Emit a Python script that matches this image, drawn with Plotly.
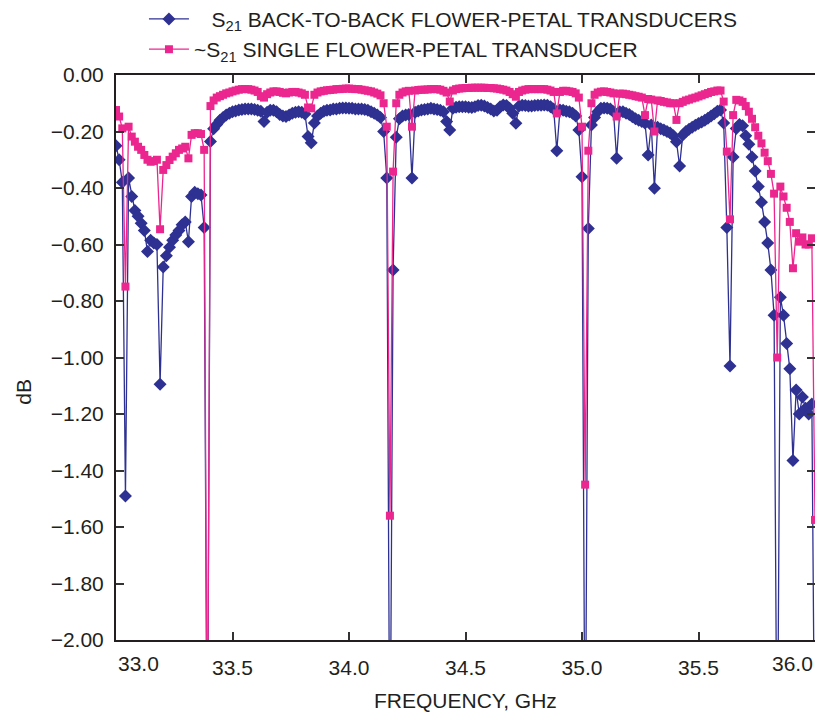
import numpy as np
import plotly.graph_objects as go

# Frequency sweep (GHz): 223 equally spaced points from 33.0 to 36.0
F_START, F_STOP, N_PTS = 33.0, 36.0, 223
freq = np.linspace(F_START, F_STOP, N_PTS)

# S21 back-to-back flower-petal transducers (dB)
s21_b2b = [
    -0.25, -0.30, -0.38, -1.49, -0.365, -0.43, -0.48, -0.50, -0.525, -0.55,
    -0.625, -0.585, -0.595, -0.60, -1.095, -0.68, -0.64, -0.61, -0.585, -0.566,
    -0.55, -0.53, -0.52, -0.59, -0.43, -0.415, -0.42, -0.425, -0.54, -2.60,
    -0.235, -0.19, -0.175, -0.16, -0.15, -0.142, -0.135, -0.13, -0.127, -0.124,
    -0.122, -0.12, -0.12, -0.12, -0.122, -0.125, -0.128, -0.165, -0.132, -0.125,
    -0.125, -0.13, -0.14, -0.145, -0.147, -0.142, -0.135, -0.132, -0.13, -0.132,
    -0.138, -0.218, -0.24, -0.17, -0.145, -0.135, -0.128, -0.125, -0.124, -0.12,
    -0.12, -0.118, -0.117, -0.117, -0.118, -0.118, -0.12, -0.12, -0.12, -0.122,
    -0.125, -0.13, -0.135, -0.142, -0.15, -0.20, -0.365, -2.60, -0.69, -0.22,
    -0.155, -0.145, -0.142, -0.14, -0.365, -0.132, -0.127, -0.124, -0.122, -0.12,
    -0.118, -0.12, -0.122, -0.125, -0.13, -0.165, -0.195, -0.118, -0.114, -0.112,
    -0.112, -0.112, -0.114, -0.115, -0.112, -0.108, -0.107, -0.11, -0.115, -0.12,
    -0.127, -0.125, -0.112, -0.106, -0.108, -0.118, -0.135, -0.171, -0.11, -0.107,
    -0.108, -0.11, -0.11, -0.108, -0.107, -0.107, -0.106, -0.107, -0.112, -0.12,
    -0.268, -0.124, -0.125, -0.128, -0.13, -0.135, -0.145, -0.195, -0.36, -2.60,
    -0.543, -0.177, -0.15, -0.13, -0.118, -0.117, -0.118, -0.12, -0.13, -0.295,
    -0.13, -0.13, -0.135, -0.14, -0.148, -0.155, -0.16, -0.165, -0.17, -0.283,
    -0.177, -0.401, -0.185, -0.19, -0.195, -0.20, -0.205, -0.215, -0.236, -0.322,
    -0.212, -0.20, -0.192, -0.185, -0.178, -0.172, -0.166, -0.16, -0.153, -0.145,
    -0.137, -0.128, -0.124, -0.17, -0.54, -1.03, -0.29, -0.189, -0.175, -0.18,
    -0.215, -0.245, -0.29, -0.34, -0.395, -0.45, -0.52, -0.595, -0.69, -0.85,
    -2.60, -0.787, -0.85, -0.95, -1.04, -1.365, -1.115, -1.20, -1.14, -1.18,
    -1.20, -1.165, -2.60,
]

# ~S21 single flower-petal transducer (dB)
s21_single = [
    -0.124, -0.147, -0.189, -0.749, -0.183, -0.218, -0.236, -0.254, -0.265, -0.283,
    -0.30, -0.307, -0.305, -0.30, -0.546, -0.336, -0.319, -0.301, -0.289, -0.277,
    -0.265, -0.26, -0.254, -0.295, -0.212, -0.206, -0.206, -0.209, -0.265, -2.60,
    -0.11, -0.09, -0.08, -0.075, -0.07, -0.065, -0.062, -0.058, -0.055, -0.052,
    -0.05, -0.05, -0.05, -0.052, -0.055, -0.06, -0.075, -0.08, -0.068, -0.062,
    -0.058, -0.058, -0.06, -0.063, -0.065, -0.062, -0.06, -0.06, -0.062, -0.065,
    -0.07, -0.115, -0.118, -0.07, -0.062, -0.058, -0.056, -0.054, -0.053, -0.052,
    -0.05, -0.05, -0.049, -0.048, -0.048, -0.049, -0.05, -0.05, -0.052, -0.054,
    -0.056, -0.058, -0.062, -0.066, -0.072, -0.10, -0.183, -1.56, -0.342, -0.10,
    -0.07, -0.062, -0.058, -0.056, -0.183, -0.055, -0.053, -0.052, -0.052, -0.051,
    -0.05, -0.05, -0.05, -0.052, -0.056, -0.062, -0.094, -0.055, -0.05, -0.048,
    -0.047, -0.046, -0.046, -0.045, -0.045, -0.045, -0.045, -0.045, -0.046, -0.046,
    -0.047, -0.048, -0.05, -0.052, -0.055, -0.06, -0.068, -0.077, -0.06, -0.055,
    -0.052, -0.05, -0.05, -0.05, -0.05, -0.05, -0.05, -0.052, -0.055, -0.06,
    -0.136, -0.06, -0.056, -0.056, -0.058, -0.06, -0.065, -0.08, -0.183, -1.45,
    -0.268, -0.10, -0.07, -0.062, -0.059, -0.058, -0.06, -0.062, -0.065, -0.147,
    -0.066, -0.066, -0.068, -0.07, -0.072, -0.075, -0.077, -0.08, -0.142, -0.085,
    -0.087, -0.20, -0.09, -0.092, -0.095, -0.097, -0.10, -0.10, -0.159, -0.10,
    -0.095, -0.09, -0.087, -0.083, -0.08, -0.076, -0.072, -0.068, -0.064, -0.06,
    -0.058, -0.055, -0.055, -0.094, -0.271, -0.511, -0.142, -0.088, -0.09, -0.095,
    -0.11, -0.13, -0.155, -0.185, -0.215, -0.242, -0.275, -0.305, -0.35, -0.42,
    -1.00, -0.395, -0.43, -0.47, -0.52, -0.684, -0.56, -0.59, -0.575, -0.60,
    -0.60, -0.578, -1.575,
]

x_ticks = [33.5, 34.0, 34.5, 35.0, 35.5]
x_edge_ticks = [33.0, 36.0]
y_ticks = [0.0, -0.2, -0.4, -0.6, -0.8, -1.0, -1.2, -1.4, -1.6, -1.8, -2.0]

BLUE = "#2E3192"
PINK = "#EC268F"
TXT = "#231F20"
FONT = "Liberation Sans, Arial, sans-serif"
FS = 21

# page has an 8px body margin, so the figure is 8px smaller each way
W, H = 815, 707

fig = go.Figure()
fig.add_trace(go.Scatter(
    x=freq, y=s21_b2b, mode="lines+markers",
    name="\u00a0\u00a0\u00a0S<sub>21</sub> BACK-TO-BACK FLOWER-PETAL TRANSDUCERS",
    line=dict(color=BLUE, width=1.3),
    marker=dict(symbol="diamond", size=10, color=BLUE),
))
fig.add_trace(go.Scatter(
    x=freq, y=s21_single, mode="lines+markers",
    name="~S<sub>21</sub> SINGLE FLOWER-PETAL TRANSDUCER",
    line=dict(color=PINK, width=1.3),
    marker=dict(symbol="square", size=8, color=PINK),
))

axis_common = dict(
    showgrid=False, zeroline=False, showline=True, linecolor=TXT, linewidth=2,
    ticks="inside", ticklen=8, tickwidth=1.5, tickcolor="#333333", mirror="ticks",
    tickfont=dict(family=FONT, size=FS, color=TXT), automargin=False,
)

fig.update_layout(
    width=W, height=H,
    margin=dict(l=108, r=8, t=67, b=75, autoexpand=False),
    paper_bgcolor="white", plot_bgcolor="white",
    font=dict(family=FONT, size=FS, color=TXT),
    showlegend=True,
    legend=dict(
        x=0.04, y=1.135, xanchor="left", yanchor="top",
        bgcolor="rgba(0,0,0,0)", itemwidth=40, tracegroupgap=0,
        font=dict(family=FONT, size=FS, color=TXT),
    ),
    xaxis=dict(range=[33.0, 36.0], tickvals=x_ticks, tickformat=".1f",
               ticklabelstandoff=8, **axis_common),
    yaxis=dict(range=[-2.0, 0.0], tickvals=y_ticks, tickformat=".2f",
               ticklabelstandoff=6, **axis_common),
)

for xv, anchor in zip(x_edge_ticks, ["left", "right"]):
    fig.add_annotation(x=xv, xref="x", y=0, yref="paper", yanchor="top",
                       xanchor=anchor, yshift=-10, showarrow=False,
                       text=f"{xv:.1f}", font=dict(family=FONT, size=FS, color=TXT))

fig.add_annotation(x=0.5, xref="paper", y=0, yref="paper", yanchor="top",
                   yshift=-47, showarrow=False, text="FREQUENCY, GHz",
                   font=dict(family=FONT, size=FS, color=TXT))
fig.add_annotation(x=-0.152, xref="paper", y=0.44, yref="paper",
                   showarrow=False, text="dB", textangle=-90,
                   font=dict(family=FONT, size=FS, color=TXT))

fig.write_html("out.html")
